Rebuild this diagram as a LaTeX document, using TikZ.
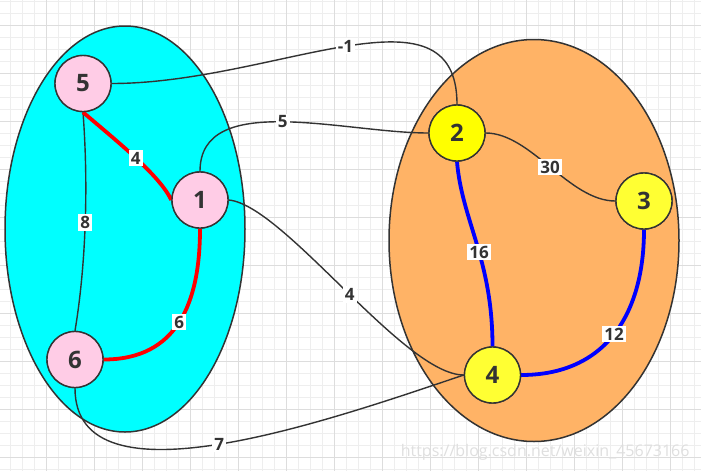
\documentclass[tikz,border=0pt]{standalone}
\usepackage{fontspec}
\setmainfont{Open Sans}
\usepackage{tikz}
\usetikzlibrary{calc}

\definecolor{gridminor}{HTML}{EEEEEE}
\definecolor{gridmajor}{HTML}{DDDDDD}
\definecolor{linegray}{HTML}{333333}
\definecolor{textgray}{HTML}{333333}
\definecolor{setcyan}{HTML}{00FFFF}
\definecolor{setorange}{HTML}{FFB366}
\definecolor{pinkfill}{HTML}{FFCCE6}
\definecolor{yellowA}{HTML}{FFFF00}
\definecolor{yellowB}{HTML}{FFFF33}

\tikzset{
  vtx/.style={circle, draw=linegray, line width=1.4pt, minimum size=56pt, inner sep=0pt,
    font=\fontsize{24}{24}\selectfont\bfseries, text=textgray},
  pinkvtx/.style={vtx, fill=pinkfill},
  yelvtx/.style={vtx, fill=yellowB},
  edge/.style={draw=linegray, line width=1.4pt},
  redge/.style={draw=red, line width=3.8pt},
  bedge/.style={draw=blue, line width=3.8pt},
  lbl/.style={fill=white, inner sep=2pt, font=\fontsize{17}{17}\selectfont\bfseries, text=textgray},
  setline/.style={draw=linegray, line width=1.5pt},
}

\begin{document}
\begin{tikzpicture}[x=1pt, y=-1pt]
    \useasboundingbox (0,0) rectangle (701,471);
    \fill[white] (0,0) rectangle (701,471);

    % Grid
    \foreach \i in {0,...,57}
        \draw[gridminor, line width=1pt] ({10.7+12*\i},0) -- ({10.7+12*\i},471);
    \foreach \j in {0,...,39}
        \draw[gridminor, line width=1pt] (0,{1.3+12*\j}) -- (701,{1.3+12*\j});
    \foreach \i in {0,...,13}
        \draw[gridmajor, line width=1pt] ({46.7+48*\i},0) -- ({46.7+48*\i},471);
    \foreach \j in {0,...,9}
        \draw[gridmajor, line width=1pt] (0,{25.3+48*\j}) -- (701,{25.3+48*\j});

    % Vertex sets
    \filldraw[setline, fill=setcyan] (125,229) ellipse [x radius=120pt, y radius=203pt];
    \filldraw[setline, fill=setorange] (534,240.5) ellipse [x radius=145pt, y radius=201pt];

    % Vertices
    \node[pinkvtx] (n5) at (83,83.5) {5};
    \node[pinkvtx] (n1) at (200,200) {1};
    \node[pinkvtx] (n6) at (75,359.5) {6};
    \node[vtx, fill=yellowA] (n2) at (457,133) {2};
    \node[yelvtx] (n3) at (644,201) {3};
    \node[yelvtx] (n4) at (492.5,375) {4};

    % Edges between the sets
    \draw[edge] (n5.east) .. controls +(163,0) and +(0,-127) .. (n2.north)
        node[lbl, pos=0.5] {-1};
    \draw[edge] (n1.north) .. controls +(0,-81) and +(-84,0) .. (n2.west)
        node[lbl, pos=0.5] {5};
    \draw[edge] (n1.east) .. controls +(55,5) and +(-60,0) .. (n4.west)
        node[lbl, pos=0.52] {4};
    \draw[edge] (n6.south) .. controls +(0,122) and +(-134,45) .. (n4.west)
        node[lbl, pos=0.5] {7};

    % Edges in the cyan set
    \draw[edge] (n5.south) .. controls +(6,80) and +(10,-60) .. (n6.north)
        node[lbl, pos=0.47] {8};
    \draw[redge] (n5.south) .. controls +(35,30) and +(-12,-25) .. (n1.west)
        node[lbl, pos=0.5] {4};
    \draw[redge] (n1.south) .. controls +(0,75) and +(73,0) .. (n6.east)
        node[lbl, pos=0.5] {6};

    % Edges in the orange set
    \draw[edge] (n2.east) .. controls +(45,0) and +(-46,0) .. (n3.west)
        node[lbl, pos=0.5] {30};
    \draw[bedge] (n2.south) .. controls +(5,59) and +(0,-87) .. (n4.north)
        node[lbl, pos=0.55] {16};
    \draw[bedge] (n3.south) .. controls +(0,85) and +(84,0) .. (n4.east)
        node[lbl, pos=0.5] {12};

    % Redraw vertices over edge ends
    \node[pinkvtx] at (n5) {5};
    \node[pinkvtx] at (n1) {1};
    \node[pinkvtx] at (n6) {6};
    \node[vtx, fill=yellowA] at (n2) {2};
    \node[yelvtx] at (n3) {3};
    \node[yelvtx] at (n4) {4};

    % Watermark
    \node[anchor=east, text=gray!25, font=\fontsize{16}{16}\selectfont] (wm) at (693,452)
        {https://blog.csdn.net/weixin\_45673166};
\end{tikzpicture}
\end{document}
